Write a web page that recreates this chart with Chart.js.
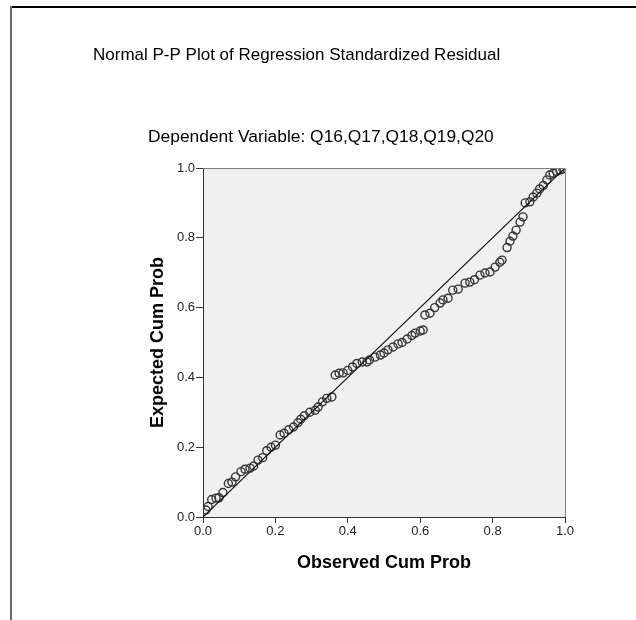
<!DOCTYPE html>
<html lang="en">
<head>
<meta charset="UTF-8">
<title>Normal P-P Plot of Regression Standardized Residual</title>
<script src="https://cdn.jsdelivr.net/npm/chart.js@4.4.1/dist/chart.umd.min.js"></script>
<style>
    html, body { margin: 0; padding: 0; background: #fff; }
    canvas { display: block; }
</style>
</head>
<body>
<canvas id="ppPlot" width="636" height="620"></canvas>
<script>
// values
const observedCumProb = [
    0.008, 0.014, 0.024, 0.036, 0.044, 0.055, 0.070, 0.080, 0.090, 0.105,
    0.116, 0.130, 0.140, 0.152, 0.165, 0.176, 0.188, 0.200, 0.213, 0.224,
    0.237, 0.250, 0.262, 0.270, 0.280, 0.295, 0.310, 0.318, 0.330, 0.342,
    0.356, 0.365, 0.376, 0.387, 0.400, 0.413, 0.425, 0.440, 0.453, 0.460,
    0.475, 0.490, 0.500, 0.511, 0.525, 0.539, 0.550, 0.564, 0.577, 0.586,
    0.600, 0.608, 0.613, 0.627, 0.640, 0.655, 0.663, 0.677, 0.690, 0.705,
    0.724, 0.737, 0.750, 0.765, 0.779, 0.793, 0.807, 0.820, 0.826, 0.840,
    0.848, 0.856, 0.865, 0.876, 0.884, 0.890, 0.903, 0.912, 0.922, 0.930,
    0.940, 0.950, 0.958, 0.967, 0.977, 0.986, 0.994
];
const expectedCumProb = [
    0.020, 0.030, 0.050, 0.054, 0.055, 0.070, 0.096, 0.100, 0.115, 0.130,
    0.137, 0.140, 0.146, 0.163, 0.170, 0.190, 0.200, 0.206, 0.235, 0.240,
    0.250, 0.258, 0.270, 0.280, 0.290, 0.300, 0.306, 0.315, 0.330, 0.340,
    0.344, 0.407, 0.412, 0.413, 0.420, 0.430, 0.440, 0.444, 0.444, 0.450,
    0.458, 0.464, 0.470, 0.479, 0.487, 0.496, 0.500, 0.510, 0.520, 0.527,
    0.533, 0.536, 0.579, 0.584, 0.600, 0.613, 0.622, 0.627, 0.650, 0.653,
    0.670, 0.673, 0.680, 0.693, 0.699, 0.702, 0.716, 0.730, 0.736, 0.772,
    0.790, 0.805, 0.822, 0.845, 0.860, 0.900, 0.903, 0.917, 0.928, 0.940,
    0.950, 0.966, 0.980, 0.985, 0.990, 0.994, 0.998
];
const diagonalX = [0, 1];
const diagonalY = [0, 1];
const tickValues = [0, 0.2, 0.4, 0.6, 0.8, 1.0];

const chartTitle = 'Normal P-P Plot of Regression Standardized Residual';
const chartSubtitle = 'Dependent Variable: Q16,Q17,Q18,Q19,Q20';
const xTitle = 'Observed Cum Prob';
const yTitle = 'Expected Cum Prob';

const FONT = '"Liberation Sans", Arial, sans-serif';

// panel background, outer frame and the two header lines
const spssFrame = {
    id: 'spssFrame',
    beforeDraw(chart) {
        const ctx = chart.ctx;
        const a = chart.chartArea;
        ctx.save();
        ctx.fillStyle = '#f0f0f0';
        ctx.fillRect(a.left, a.top, a.right - a.left, a.bottom - a.top);

        ctx.fillStyle = '#000';
        ctx.fillRect(10, 6, 626, 2);
        ctx.fillStyle = '#666';
        ctx.fillRect(10, 6, 2, 614);

        ctx.fillStyle = '#000';
        ctx.textBaseline = 'middle';
        ctx.textAlign = 'left';
        ctx.font = '17px ' + FONT;
        ctx.fillText(chartTitle, 93, 55);
        ctx.font = '17.4px ' + FONT;
        ctx.fillText(chartSubtitle, 148, 137);
        ctx.restore();
    },
    afterDraw(chart) {
        const ctx = chart.ctx;
        const a = chart.chartArea;
        ctx.save();
        ctx.strokeStyle = '#808080';
        ctx.lineWidth = 1;
        ctx.beginPath();
        ctx.moveTo(a.left, a.top + 0.5);
        ctx.lineTo(a.right + 0.5, a.top + 0.5);
        ctx.lineTo(a.right + 0.5, a.bottom);
        ctx.stroke();
        ctx.restore();
    }
};

const ctx = document.getElementById('ppPlot').getContext('2d');

new Chart(ctx, {
    type: 'scatter',
    data: {
        datasets: [
            {
                label: 'Residual',
                data: observedCumProb.map((v, i) => ({ x: v, y: expectedCumProb[i] })),
                pointStyle: 'circle',
                pointRadius: 4,
                pointBorderWidth: 1.4,
                pointBorderColor: '#363636',
                pointBackgroundColor: 'rgba(0,0,0,0)',
                order: 2
            },
            {
                type: 'line',
                label: 'Diagonal',
                data: diagonalX.map((v, i) => ({ x: v, y: diagonalY[i] })),
                borderColor: '#111',
                borderWidth: 1.2,
                pointRadius: 0,
                fill: false,
                order: 1
            }
        ]
    },
    options: {
        responsive: false,
        animation: false,
        layout: {
            padding: { left: 147, top: 168, right: 71, bottom: 46 }
        },
        plugins: {
            legend: { display: false },
            tooltip: { enabled: false }
        },
        scales: {
            x: {
                type: 'linear',
                min: 0,
                max: 1,
                afterBuildTicks: s => { s.ticks = tickValues.map(v => ({ value: v })); },
                afterFit: s => { s.height = 57; },
                ticks: {
                    callback: v => v.toFixed(1),
                    color: '#222',
                    font: { family: FONT, size: 13 },
                    padding: 1,
                    maxRotation: 0
                },
                grid: {
                    drawOnChartArea: false,
                    drawTicks: true,
                    tickLength: 6,
                    color: '#333'
                },
                border: { display: true, color: '#333', width: 1 },
                title: {
                    display: true,
                    text: xTitle,
                    color: '#000',
                    font: { family: FONT, size: 18, weight: 'bold' },
                    padding: 0
                }
            },
            y: {
                type: 'linear',
                min: 0,
                max: 1,
                afterBuildTicks: s => { s.ticks = tickValues.map(v => ({ value: v })); },
                afterFit: s => { s.width = 56; },
                ticks: {
                    callback: v => v.toFixed(1),
                    color: '#222',
                    font: { family: FONT, size: 13 },
                    padding: 1
                },
                grid: {
                    drawOnChartArea: false,
                    drawTicks: true,
                    tickLength: 7,
                    color: '#333'
                },
                border: { display: true, color: '#333', width: 1 },
                title: {
                    display: true,
                    text: yTitle,
                    color: '#000',
                    font: { family: FONT, size: 18, weight: 'bold' },
                    padding: 0
                }
            }
        }
    },
    plugins: [spssFrame]
});
</script>
</body>
</html>
